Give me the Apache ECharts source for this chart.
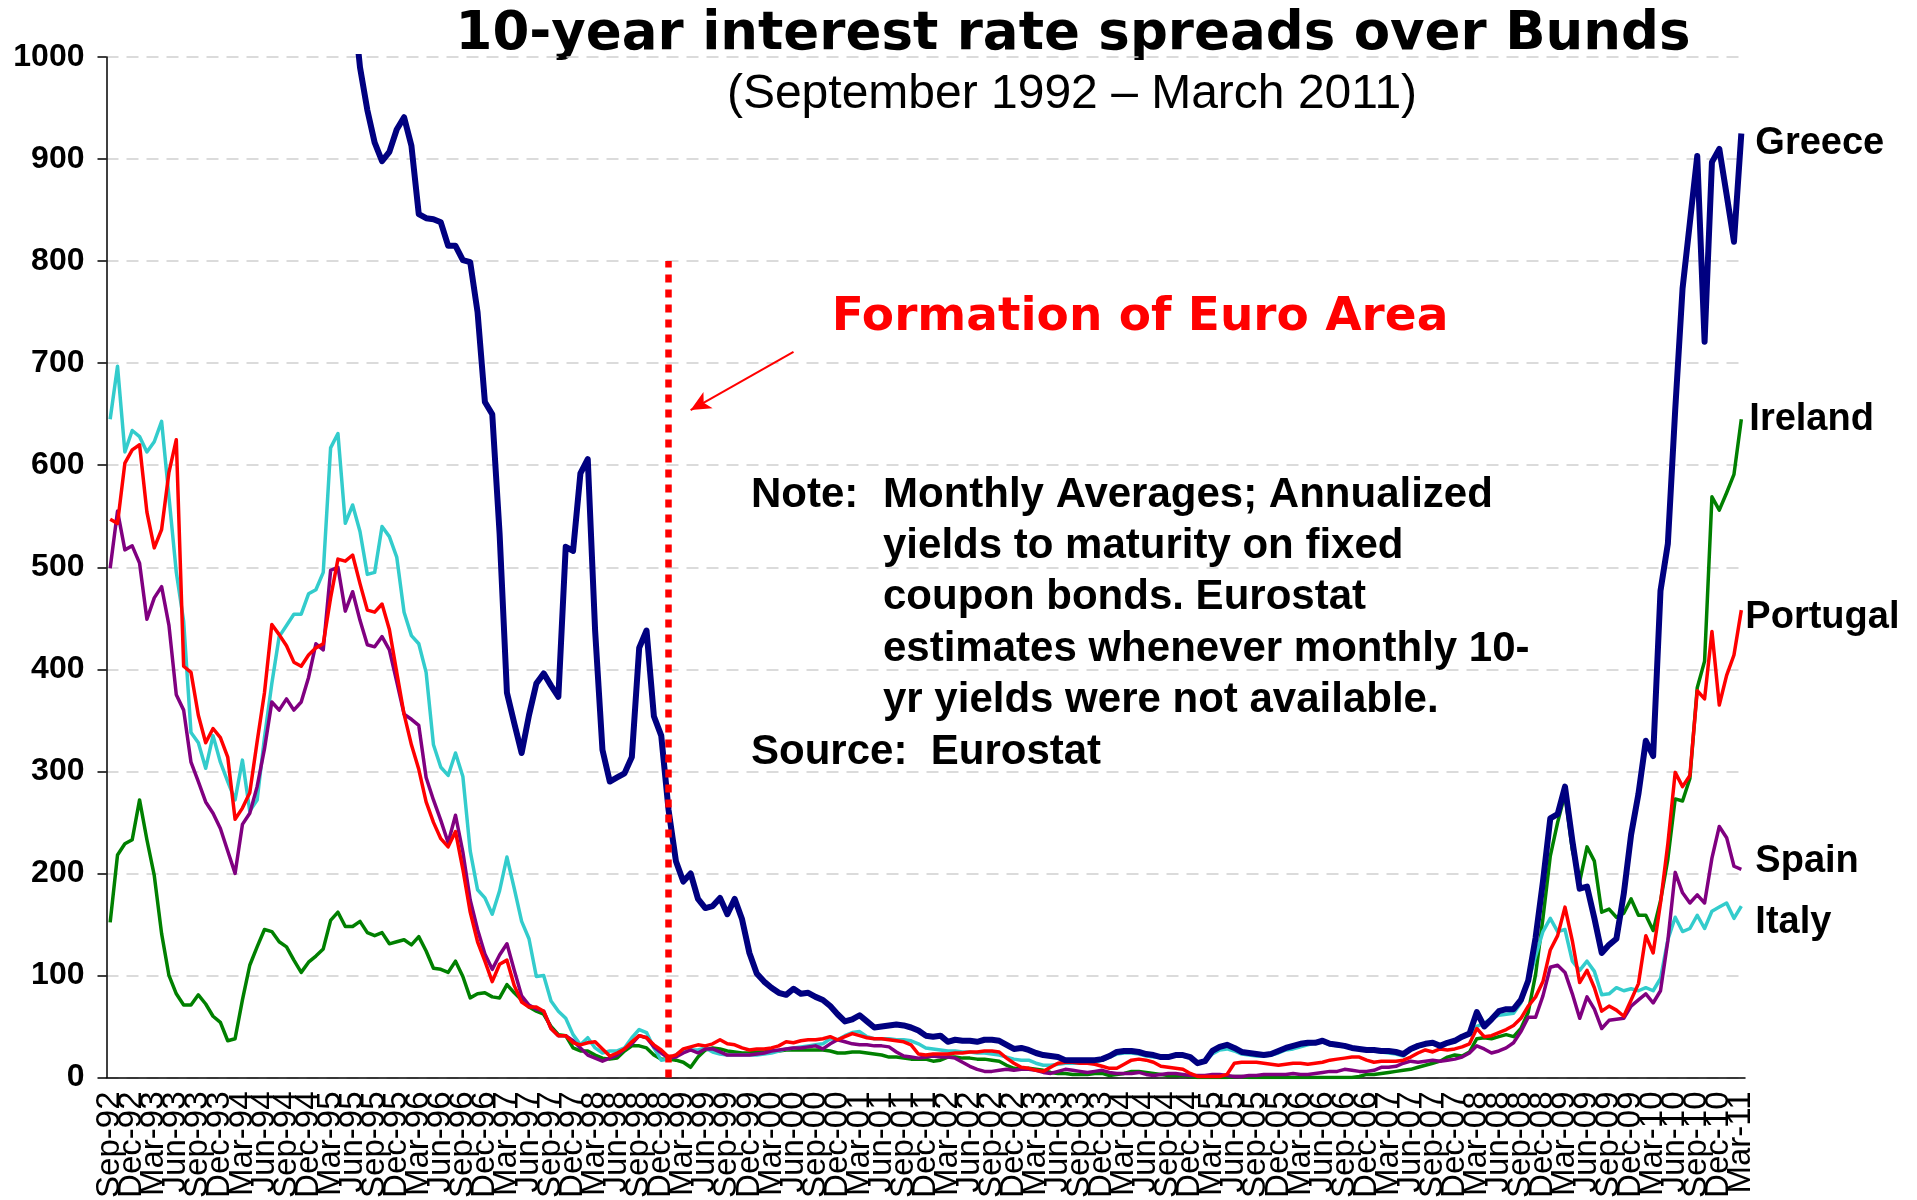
<!DOCTYPE html>
<html>
<head>
<meta charset="utf-8">
<script src="https://cdn.jsdelivr.net/npm/echarts@6/dist/echarts.min.js"></script>
<style>
  html, body { margin: 0; padding: 0; background: #fff; }
  #chart { width: 1917px; height: 1200px; }
</style>
</head>
<body>
<div id="chart"></div>
<script>
// monthly categories Sep-92 .. Mar-11
const MONTH_NAMES = ['Jan','Feb','Mar','Apr','May','Jun','Jul','Aug','Sep','Oct','Nov','Dec'];
const months = [];
for (let k = 0; k < 223; k++) {
  const m = (8 + k) % 12;
  const y = (92 + Math.floor((8 + k) / 12)) % 100;
  months.push(MONTH_NAMES[m] + '-' + String(y).padStart(2, '0'));
}

// spreads over Bunds, basis points
const italy = [
  645, 697, 613, 634, 628, 613, 623, 643, 569, 495, 447, 338,
  328, 303, 335, 309, 290, 272, 311, 261, 272, 333, 386, 432,
  443, 454, 454, 474, 478, 495, 617, 631, 543, 561, 535, 493,
  495, 540, 530, 510, 456, 433, 425, 397, 326, 304, 296, 318,
  295, 222, 184, 176, 160, 183, 216, 185, 153, 136, 99, 100,
  75, 65, 58, 42, 32, 39, 29, 24, 26, 26, 29, 39,
  47, 44, 29, 17, 18, 22, 27, 27, 27, 29, 25, 23,
  22, 22, 22, 22, 22, 23, 24, 26, 28, 29, 30, 31,
  32, 33, 38, 37, 41, 44, 45, 40, 38, 38, 38, 37,
  37, 36, 33, 29, 28, 27, 26, 26, 25, 25, 24, 24,
  23, 22, 20, 18, 17, 17, 14, 12, 12, 13, 14, 14,
  14, 14, 15, 17, 20, 23, 24, 24, 23, 21, 20, 20,
  21, 22, 21, 19, 15, 16, 23, 27, 28, 26, 23, 22,
  21, 21, 22, 24, 27, 28, 30, 32, 34, 35, 32, 31,
  30, 29, 28, 27, 26, 25, 24, 23, 21, 27, 30, 32,
  34, 32, 34, 36, 39, 43, 50, 53, 58, 61, 62, 63,
  73, 94, 119, 143, 156, 143, 145, 114, 105, 114, 104, 81,
  82, 88, 85, 87, 85, 88, 85, 97, 135, 157, 143, 146,
  159, 146, 163, 167, 171, 156, 168
];

const portugal = [
  547, 543, 602, 615, 620, 554, 519, 537, 593, 625, 403, 397,
  355, 328, 342, 333, 314, 253, 264, 279, 329, 377, 444, 434,
  423, 407, 403, 414, 421, 425, 470, 508, 506, 512, 484, 458,
  456, 464, 439, 397, 356, 326, 302, 270, 250, 234, 226, 241,
  204, 162, 133, 114, 94, 111, 115, 90, 74, 69, 69, 65,
  48, 41, 41, 34, 32, 34, 35, 28, 21, 24, 28, 35,
  41, 39, 32, 27, 20, 22, 28, 30, 32, 31, 33, 37,
  33, 32, 29, 27, 28, 28, 29, 31, 35, 34, 36, 37,
  37, 38, 40, 37, 40, 43, 41, 39, 38, 38, 37, 36,
  35, 32, 23, 22, 23, 23, 23, 24, 24, 25, 25, 26,
  26, 25, 19, 14, 10, 9, 7, 6, 10, 14, 15, 15,
  14, 14, 13, 11, 9, 9, 13, 17, 18, 17, 15, 11,
  10, 9, 8, 4, 1, 1, 1, 1, 3, 14, 15, 15,
  15, 14, 13, 12, 13, 14, 14, 13, 14, 15, 17, 18,
  19, 20, 20, 17, 15, 16, 16, 16, 17, 20, 24, 27,
  25, 28, 27, 28, 30, 33, 48, 40, 41, 44, 47, 51,
  58, 70, 79, 94, 125, 139, 167, 134, 93, 105, 88, 65,
  70, 66, 60, 76, 92, 139, 122, 171, 229, 299, 285, 296,
  379, 371, 437, 365, 394, 414, 458
];

const spain = [
  499, 555, 517, 521, 504, 449, 470, 481, 443, 375, 360, 309,
  290, 270, 259, 244, 222, 200, 248, 259, 285, 322, 368, 360,
  371, 360, 368, 392, 425, 419, 497, 500, 457, 476, 448, 424,
  422, 432, 419, 388, 356, 351, 345, 294, 272, 252, 230, 257,
  221, 174, 145, 121, 106, 120, 131, 105, 80, 71, 67, 65,
  48, 41, 41, 36, 29, 22, 19, 16, 19, 22, 28, 33,
  41, 39, 30, 24, 19, 20, 24, 27, 24, 28, 28, 25,
  22, 22, 22, 22, 23, 24, 26, 27, 28, 29, 29, 30,
  31, 28, 33, 37, 35, 33, 32, 32, 31, 31, 30, 25,
  21, 20, 19, 20, 21, 20, 20, 19, 15, 11, 8, 6,
  6, 7, 8, 7, 8, 8, 7, 5, 4, 6, 8, 7,
  6, 5, 6, 7, 5, 4, 4, 4, 5, 3, 2, 3,
  4, 4, 3, 2, 2, 2, 3, 3, 2, 1, 1, 2,
  2, 3, 3, 3, 3, 4, 3, 3, 4, 5, 6, 6,
  8, 7, 6, 6, 7, 10, 10, 11, 14, 16, 15, 16,
  17, 16, 17, 18, 20, 24, 31, 28, 24, 26, 29, 34,
  45, 59, 59, 80, 108, 110, 103, 82, 58, 79, 67, 48,
  56, 57, 58, 70, 76, 82, 73, 85, 134, 201, 181, 171,
  179, 171, 215, 246, 235, 207, 204
];

const ireland = [
  152, 218, 229, 233, 272, 233, 198, 141, 100, 82, 71, 71,
  81, 72, 60, 54, 36, 38, 76, 110, 128, 145, 143, 133,
  128, 115, 103, 113, 119, 126, 154, 162, 148, 148, 153, 142,
  139, 142, 131, 133, 135, 130, 138, 124, 107, 106, 103, 114,
  99, 78, 82, 83, 79, 78, 91, 83, 76, 69, 65, 62,
  50, 42, 41, 29, 26, 26, 22, 19, 18, 19, 26, 31,
  31, 29, 22, 18, 18, 17, 15, 10, 20, 27, 29, 28,
  26, 25, 24, 24, 25, 25, 26, 26, 27, 27, 27, 27,
  27, 27, 26, 24, 24, 25, 25, 24, 23, 22, 20, 20,
  19, 18, 18, 18, 16, 17, 20, 20, 19, 19, 18, 18,
  17, 16, 12, 9, 8, 9, 8, 7, 5, 4, 4, 3,
  3, 3, 4, 4, 2, 3, 4, 6, 6, 5, 4, 3,
  2, 2, 2, 1, 0, 0, 0, 0, 0, 1, 1, 0,
  0, 0, 0, 0, 0, 0, 0, 0, 0, 0, 0, 0,
  0, 0, 1, 3, 3, 4, 5, 6, 7, 8, 10, 12,
  14, 16, 20, 22, 21, 25, 38, 39, 38, 40, 42, 40,
  48, 64, 101, 156, 217, 250, 278, 223, 192, 226, 212, 162,
  165, 157, 161, 175, 159, 159, 144, 173, 214, 273, 271, 293,
  382, 408, 569, 556, 573, 591, 645
];

// Greece is off the top of the scale until late 1995
const greece = [
  null, null, null, null, null, null, null, null, null, null, null, null,
  null, null, null, null, null, null, null, null, null, null, null, null,
  null, null, null, null, null, null, null, null, null, 1060, 990, 948,
  916, 898, 907, 929, 941, 913, 846, 842, 841, 838, 815, 815,
  801, 799, 750, 662, 650, 533, 377, 347, 318, 355, 386, 396,
  384, 373, 520, 516, 592, 606, 438, 321, 290, 294, 298, 314,
  421, 438, 354, 335, 262, 212, 192, 200, 175, 166, 168, 176,
  160, 175, 155, 122, 102, 94, 88, 83, 81, 87, 82, 83,
  79, 76, 70, 62, 55, 57, 61, 55, 49, 50, 51, 52,
  51, 49, 46, 41, 40, 41, 35, 37, 36, 36, 35, 37,
  37, 36, 32, 28, 29, 27, 24, 22, 21, 20, 17, 17,
  17, 17, 17, 18, 21, 25, 26, 26, 25, 23, 22, 20,
  20, 22, 22, 20, 14, 16, 26, 30, 32, 29, 25, 24,
  23, 22, 23, 26, 29, 31, 33, 34, 34, 36, 33, 32,
  31, 29, 28, 27, 27, 26, 26, 25, 23, 28, 31, 33,
  34, 31, 34, 36, 40, 43, 64, 50, 57, 65, 67, 67,
  76, 95, 137, 192, 254, 258, 285, 232, 185, 187, 156, 122,
  130, 136, 180, 238, 278, 330, 315, 477, 523, 654, 773, 838,
  903, 721, 897, 910, 865, 819, 925
];

const yTicks = { min: 0, max: 1000, step: 100 };
const euroStart = 'Jan-99';
const noteLines = [
  'yields to maturity on fixed',
  'coupon bonds. Eurostat',
  'estimates whenever monthly 10-',
  'yr yields were not available.'
];

const chart = echarts.init(document.getElementById('chart'));

const labelFont = { fontFamily: 'Liberation Sans, Arial, sans-serif', fontWeight: 'bold', fontSize: 38, color: '#000' };
const tickFont = { fontFamily: 'Liberation Sans, Arial, sans-serif', fontSize: 33, color: '#000' };
const lastIdx = months.length - 1;

function lineSeries(name, data, color, width, endLabel) {
  return {
    name: name,
    type: 'line',
    data: data,
    showSymbol: false,
    symbol: 'none',
    clip: true,
    lineStyle: { color: color, width: width, join: 'round' },
    itemStyle: { color: color },
    endLabel: Object.assign({ show: true, formatter: '{a}' }, labelFont, endLabel)
  };
}

const greeceSeries = lineSeries('Greece', greece, '#000080', 6, { distance: 14, offset: [0, 10] });
greeceSeries.markLine = {
  silent: true,
  animation: false,
  symbol: ['none', 'none'],
  label: { show: false },
  data: [
    [
      { coord: [euroStart, 0], lineStyle: { color: '#ff0000', width: 6.5, type: [8, 7], cap: 'butt' } },
      { coord: [euroStart, 800] }
    ],
    [
      { coord: [months[93], 711], symbol: 'none', lineStyle: { color: '#ff0000', width: 2, type: 'solid' } },
      { coord: [months[79], 654], symbol: 'arrow', symbolSize: [14, 20] }
    ]
  ]
};

const option = {
  backgroundColor: '#ffffff',
  animation: false,
  grid: { left: 106.5, right: 172, top: 57, bottom: 122.5, outerBoundsMode: 'none', containLabel: false },
  xAxis: [
    {
      // main axis: every third month; first and last labels come from the helper axis below
      type: 'category',
      data: months,
      boundaryGap: true,
      axisLine: { lineStyle: { color: '#000', width: 1.5 } },
      axisTick: { interval: 2, length: 9, lineStyle: { color: '#000', width: 1.5 } },
      axisLabel: Object.assign({
        interval: 2, rotate: 90, margin: 14,
        formatter: (val, idx) => (idx === 0 || idx === lastIdx) ? '' : val
      }, tickFont),
      splitLine: { show: false }
    },
    {
      type: 'category',
      data: months,
      position: 'bottom',
      boundaryGap: true,
      axisLine: { show: false },
      axisTick: { show: false },
      axisLabel: Object.assign({
        interval: (idx) => idx === 0 || idx === lastIdx, rotate: 90, margin: 14
      }, tickFont),
      splitLine: { show: false }
    }
  ],
  yAxis: {
    type: 'value',
    min: yTicks.min, max: yTicks.max, interval: yTicks.step,
    axisLine: { show: true, lineStyle: { color: '#000', width: 1.5 } },
    axisTick: { show: true, length: 9, lineStyle: { color: '#000', width: 1.5 } },
    axisLabel: {
      margin: 22,
      formatter: (v) => String(v),
      fontFamily: 'Liberation Sans, Arial, sans-serif',
      fontWeight: 'bold', fontSize: 32, color: '#000'
    },
    splitLine: { lineStyle: { color: '#cfcfcf', width: 1.5, type: [12, 8] } }
  },
  series: [
    lineSeries('Ireland', ireland, '#008000', 3.5, { distance: 8, offset: [0, 0] }),
    lineSeries('Italy', italy, '#33cccc', 3.5, { distance: 14, offset: [0, 16] }),
    lineSeries('Spain', spain, '#800080', 3.5, { distance: 14, offset: [0, -8] }),
    lineSeries('Portugal', portugal, '#ff0000', 3.5, { distance: 4, offset: [0, 7] }),
    greeceSeries
  ],
  graphic: [
    {
      type: 'text', x: 1073, y: 35,
      style: {
        text: '10-year interest rate spreads over Bunds',
        fontFamily: 'DejaVu Sans', fontWeight: 'bold', fontSize: 53, fill: '#000',
        textAlign: 'center', textVerticalAlign: 'middle', align: 'center', verticalAlign: 'middle'
      }
    },
    {
      type: 'text', x: 1072, y: 95,
      style: {
        text: '(September 1992 \u2013 March 2011)',
        fontFamily: 'Liberation Sans, Arial', fontSize: 48, fill: '#000',
        textAlign: 'center', textVerticalAlign: 'middle', align: 'center', verticalAlign: 'middle'
      }
    },
    {
      type: 'text', x: 1140, y: 318,
      style: {
        text: 'Formation of Euro Area',
        fontFamily: 'DejaVu Sans', fontWeight: 'bold', fontSize: 47, fill: '#ff0000',
        textAlign: 'center', textVerticalAlign: 'middle', align: 'center', verticalAlign: 'middle'
      }
    },
    {
      type: 'text', x: 751, y: 495,
      style: {
        text: 'Note:', fontFamily: 'Liberation Sans, Arial', fontWeight: 'bold', fontSize: 42, fill: '#000',
        textVerticalAlign: 'middle', verticalAlign: 'middle'
      }
    },
    {
      type: 'text', x: 883, y: 495,
      style: {
        text: 'Monthly Averages; Annualized', fontFamily: 'Liberation Sans, Arial', fontWeight: 'bold', fontSize: 42, fill: '#000',
        textVerticalAlign: 'middle', verticalAlign: 'middle'
      }
    }
  ].concat(noteLines.map((t, k) => ({
    type: 'text', x: 883, y: 546.5 + k * 51.4,
    style: {
      text: t, fontFamily: 'Liberation Sans, Arial', fontWeight: 'bold', fontSize: 42, fill: '#000',
      textVerticalAlign: 'middle', verticalAlign: 'middle'
    }
  }))).concat([
    {
      type: 'text', x: 751, y: 752,
      style: {
        text: 'Source:  Eurostat', fontFamily: 'Liberation Sans, Arial', fontWeight: 'bold', fontSize: 42, fill: '#000',
        textVerticalAlign: 'middle', verticalAlign: 'middle'
      }
    }
  ])
};

chart.setOption(option);
window.addEventListener('resize', () => chart.resize());
</script>
</body>
</html>
